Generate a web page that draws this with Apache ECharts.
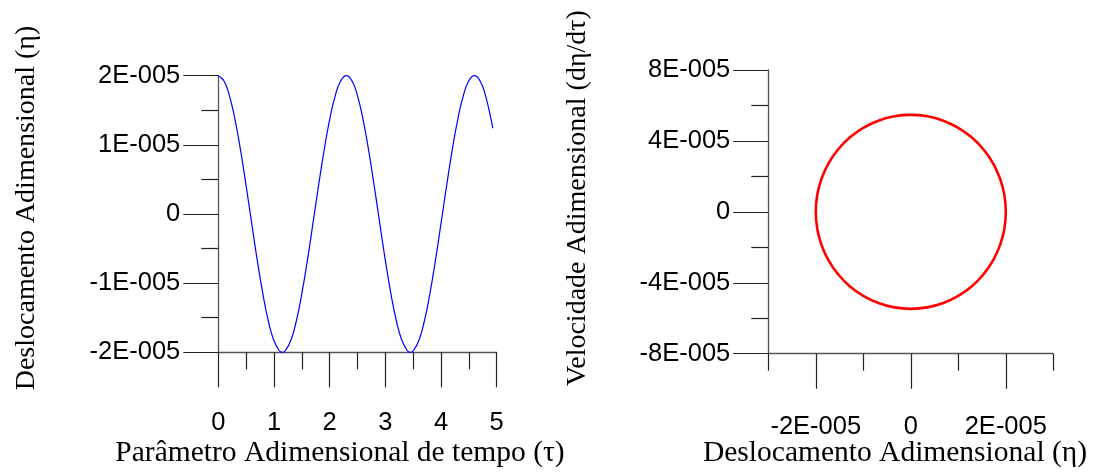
<!DOCTYPE html>
<html>
<head>
<meta charset="utf-8">
<script src="https://cdn.jsdelivr.net/npm/echarts@6/dist/echarts.min.js"></script>
<style>
  html, body { margin: 0; padding: 0; background: #fff; }
  #chart { width: 1093px; height: 475px; }
</style>
</head>
<body>
<div id="chart"></div>
<script>
// Time response: dimensionless time and displacement
const tau = [0, 0.1, 0.2, 0.3, 0.4, 0.5, 0.6, 0.7, 0.8, 0.9,
             1.0, 1.1, 1.15, 1.2, 1.3, 1.4, 1.5, 1.6, 1.7, 1.8, 1.9,
             2.0, 2.1, 2.2, 2.3, 2.4, 2.5, 2.6, 2.7, 2.8, 2.9,
             3.0, 3.1, 3.2, 3.3, 3.4, 3.45, 3.5, 3.6, 3.7, 3.8, 3.9,
             4.0, 4.1, 4.2, 4.3, 4.4, 4.5, 4.6, 4.7, 4.8, 4.9, 4.93];
const eta = [2.000e-5, 1.926e-5, 1.709e-5, 1.365e-5, 0.920e-5, 0.407e-5, -0.136e-5, -0.670e-5, -1.153e-5, -1.551e-5,
             -1.834e-5, -1.981e-5, -2.000e-5, -1.981e-5, -1.834e-5, -1.551e-5, -1.153e-5, -0.670e-5, -0.136e-5, 0.407e-5, 0.920e-5,
             1.365e-5, 1.709e-5, 1.926e-5, 2.000e-5, 1.926e-5, 1.709e-5, 1.365e-5, 0.920e-5, 0.407e-5, -0.136e-5,
             -0.670e-5, -1.153e-5, -1.551e-5, -1.834e-5, -1.981e-5, -2.000e-5, -1.981e-5, -1.834e-5, -1.551e-5, -1.153e-5, -0.670e-5,
             -0.136e-5, 0.407e-5, 0.920e-5, 1.365e-5, 1.709e-5, 1.926e-5, 2.000e-5, 1.926e-5, 1.709e-5, 1.365e-5, 1.240e-5];

// Phase portrait: displacement vs. velocity
const phaseEta = [2.000e-5, 1.970e-5, 1.879e-5, 1.732e-5, 1.532e-5, 1.286e-5, 1.000e-5, 0.684e-5, 0.347e-5, 0,
                  -0.347e-5, -0.684e-5, -1.000e-5, -1.286e-5, -1.532e-5, -1.732e-5, -1.879e-5, -1.970e-5, -2.000e-5,
                  -1.970e-5, -1.879e-5, -1.732e-5, -1.532e-5, -1.286e-5, -1.000e-5, -0.684e-5, -0.347e-5, 0,
                  0.347e-5, 0.684e-5, 1.000e-5, 1.286e-5, 1.532e-5, 1.732e-5, 1.879e-5, 1.970e-5, 2.000e-5];
const phaseVel = [0, 0.950e-5, 1.871e-5, 2.735e-5, 3.516e-5, 4.190e-5, 4.737e-5, 5.140e-5, 5.387e-5, 5.470e-5,
                  5.387e-5, 5.140e-5, 4.737e-5, 4.190e-5, 3.516e-5, 2.735e-5, 1.871e-5, 0.950e-5, 0,
                  -0.950e-5, -1.871e-5, -2.735e-5, -3.516e-5, -4.190e-5, -4.737e-5, -5.140e-5, -5.387e-5, -5.470e-5,
                  -5.387e-5, -5.140e-5, -4.737e-5, -4.190e-5, -3.516e-5, -2.735e-5, -1.871e-5, -0.950e-5, 0];

// Tick positions on the phase-portrait abscissa
const phaseXMajor = [-2e-5, 0, 2e-5];
const phaseXMinor = [-3e-5, -1e-5, 1e-5, 3e-5];

function sci(v) {
  const m = Math.round(v * 1e5);
  return m === 0 ? '0' : m + 'E-005';
}

const tickFont = { fontFamily: 'Liberation Sans, Arial, sans-serif', fontSize: 25.5, color: '#000' };
const axisLine = { show: true, onZero: false, lineStyle: { color: '#555', width: 1.3 } };
const majorTick = { show: true, length: 35, lineStyle: { color: '#222', width: 1.2 } };
const minorTick = { show: true, splitNumber: 2, length: 17, lineStyle: { color: '#222', width: 1.2 } };
const titleFontH = '29.5px "Liberation Serif", "Times New Roman", serif';
const titleFontV = '28px "Liberation Serif", "Times New Roman", serif';

const chart = echarts.init(document.getElementById('chart'), null, { renderer: 'canvas' });

chart.setOption({
  animation: false,
  backgroundColor: '#fff',
  grid: [
    { left: 218.3, top: 75.7, width: 278.4, height: 276.6 },
    { left: 768.3, top: 70, width: 285, height: 283.7 }
  ],
  xAxis: [
    {
      gridIndex: 0, type: 'value', position: 'bottom', min: 0, max: 5, interval: 1,
      axisLine: axisLine, axisTick: majorTick, minorTick: minorTick,
      splitLine: { show: false }, minorSplitLine: { show: false },
      axisLabel: Object.assign({ margin: 58 }, tickFont)
    },
    {
      gridIndex: 1, type: 'value', position: 'bottom', min: -3e-5, max: 3e-5,
      axisLine: axisLine,
      axisTick: Object.assign({ customValues: phaseXMajor }, majorTick),
      splitLine: { show: false },
      axisLabel: Object.assign({ margin: 60, customValues: phaseXMajor, formatter: sci }, tickFont)
    },
    {
      gridIndex: 1, type: 'value', position: 'bottom', offset: 0, min: -3e-5, max: 3e-5,
      axisLine: { show: false, onZero: false },
      axisTick: { show: true, customValues: phaseXMinor, length: 17, lineStyle: { color: '#222', width: 1.2 } },
      axisLabel: { show: false },
      splitLine: { show: false }
    }
  ],
  yAxis: [
    {
      gridIndex: 0, type: 'value', position: 'left', min: -2e-5, max: 2e-5, interval: 1e-5,
      axisLine: axisLine, axisTick: majorTick, minorTick: minorTick,
      splitLine: { show: false }, minorSplitLine: { show: false },
      axisLabel: Object.assign({ margin: 38, formatter: sci }, tickFont)
    },
    {
      gridIndex: 1, type: 'value', position: 'left', min: -8e-5, max: 8e-5, interval: 4e-5,
      axisLine: axisLine, axisTick: majorTick, minorTick: minorTick,
      splitLine: { show: false }, minorSplitLine: { show: false },
      axisLabel: Object.assign({ margin: 38, formatter: sci }, tickFont)
    }
  ],
  series: [
    {
      type: 'line', xAxisIndex: 0, yAxisIndex: 0,
      data: tau.map((t, i) => [t, eta[i]]),
      smooth: true, showSymbol: false,
      lineStyle: { color: '#0000ff', width: 1.2 }
    },
    {
      type: 'line', xAxisIndex: 1, yAxisIndex: 1,
      data: phaseEta.map((e, i) => [e, phaseVel[i]]),
      smooth: true, showSymbol: false,
      lineStyle: { color: '#ff0000', width: 2.6, join: 'round' }
    }
  ],
  graphic: [
    { type: 'text', x: 27, y: 208, rotation: Math.PI / 2,
      style: { text: 'Deslocamento Adimensional (η)', font: titleFontV, fill: '#000', textAlign: 'center', textVerticalAlign: 'middle' } },
    { type: 'text', x: 340, y: 453,
      style: { text: 'Parâmetro Adimensional de tempo (τ)', font: titleFontH, fill: '#000', textAlign: 'center', textVerticalAlign: 'middle' } },
    { type: 'text', x: 578, y: 198, rotation: Math.PI / 2,
      style: { text: 'Velocidade Adimensional (dη/dτ)', font: titleFontV, fill: '#000', textAlign: 'center', textVerticalAlign: 'middle' } },
    { type: 'text', x: 895, y: 453,
      style: { text: 'Deslocamento Adimensional (η)', font: titleFontH, fill: '#000', textAlign: 'center', textVerticalAlign: 'middle' } }
  ]
});
</script>
</body>
</html>
